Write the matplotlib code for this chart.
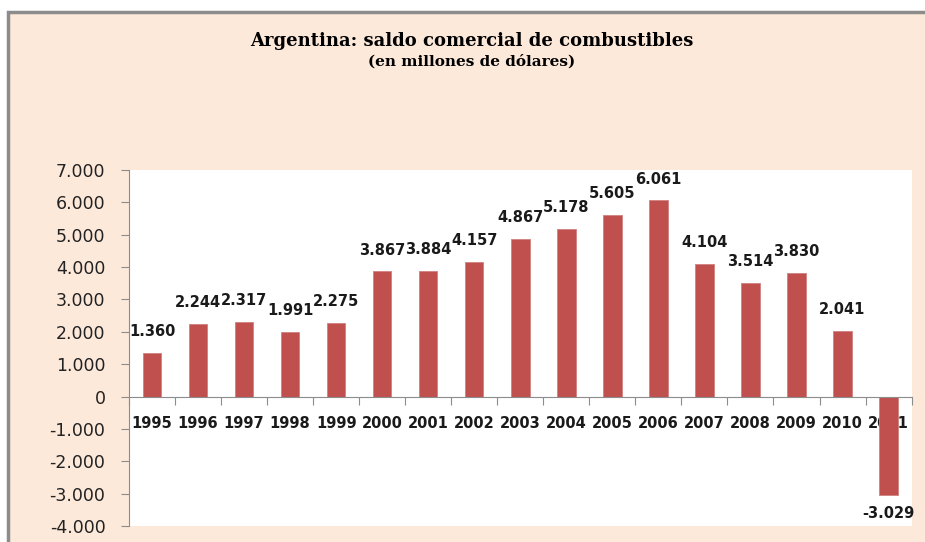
import matplotlib
matplotlib.use("Agg")
import matplotlib.pyplot as plt
from matplotlib.patches import Rectangle
from matplotlib.ticker import FuncFormatter, FixedLocator

years = ["1995", "1996", "1997", "1998", "1999", "2000", "2001", "2002", "2003",
         "2004", "2005", "2006", "2007", "2008", "2009", "2010", "2011"]
saldo = [1360, 2244, 2317, 1991, 2275, 3867, 3884, 4157, 4867,
         5178, 5605, 6061, 4104, 3514, 3830, 2041, -3029]
y_ticks = [-4000, -3000, -2000, -1000, 0, 1000, 2000, 3000, 4000, 5000, 6000, 7000]


def miles(v, pos=None):
    # thousands separator with a dot, as in the original
    s = f"{abs(int(round(v))):,}".replace(",", ".")
    return ("-" if v < 0 else "") + s


peach = "#FDE9DA"
bar_color = "#C0504D"
grey = "#8C8C8C"

fig = plt.figure(figsize=(9.25, 5.42), dpi=100, facecolor="white")
fig.patches.append(Rectangle((0.009, -0.02), 1.05, 0.998, transform=fig.transFigure,
                             facecolor=peach, edgecolor=grey, linewidth=2.5, zorder=-5))

ax = fig.add_axes([0.1395, 0.0295, 0.846, 0.6568])
ax.set_facecolor("white")

x = list(range(len(years)))
ax.bar(x, saldo, width=0.4, color=bar_color, edgecolor="#D08080", linewidth=0.6, zorder=2)

for xi, v in zip(x, saldo):
    off = 10 if v >= 0 else -8
    ax.annotate(miles(v), (xi, v), xytext=(0, off), textcoords="offset points",
                ha="center", va="bottom" if v >= 0 else "top",
                fontsize=10.5, fontweight="bold", color="#1a1a1a", family="DejaVu Sans")

ax.set_xlim(-0.5, len(years) - 0.5)
ax.set_ylim(-4000, 7000)
ax.yaxis.set_major_locator(FixedLocator(y_ticks))
ax.yaxis.set_major_formatter(FuncFormatter(miles))

for s in ["top", "right"]:
    ax.spines[s].set_visible(False)
ax.spines["left"].set_color(grey)
ax.spines["bottom"].set_color(grey)
ax.spines["bottom"].set_position(("data", 0))

ax.tick_params(axis="y", direction="out", length=6, color=grey, pad=11,
               labelsize=12.5, labelcolor="#222222")
ax.set_xticks([i - 0.5 for i in range(len(years) + 1)])
ax.set_xticklabels([])
ax.tick_params(axis="x", which="major", direction="out", length=6, color=grey)
ax.set_xticks(x, minor=True)
ax.set_xticklabels(years, minor=True)
ax.tick_params(axis="x", which="minor", length=0, pad=14, labelsize=10.5, labelcolor="#1a1a1a")
for lbl in ax.get_xticklabels(minor=True):
    lbl.set_fontweight("bold")

fig.text(0.51, 0.924, "Argentina: saldo comercial de combustibles", ha="center", va="center",
         fontsize=13, fontweight="bold", family="DejaVu Serif")
fig.text(0.51, 0.886, "(en millones de dólares)", ha="center", va="center",
         fontsize=11, fontweight="bold", family="DejaVu Serif")

fig.savefig("out.png", dpi=100, facecolor="white")
